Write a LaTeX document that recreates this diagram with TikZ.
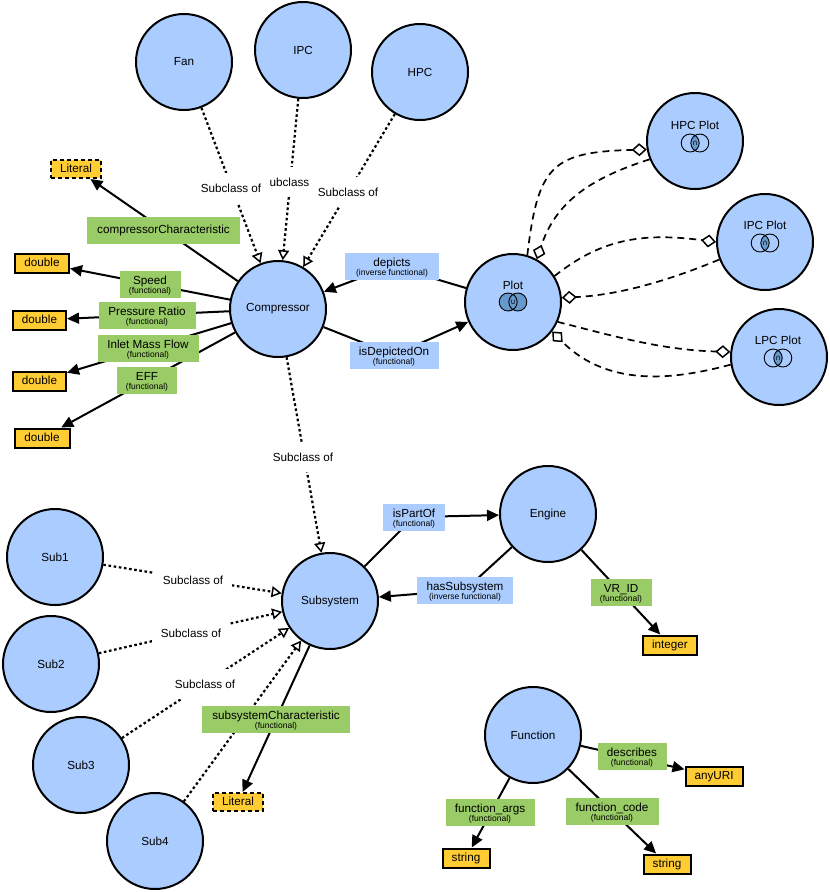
\documentclass[tikz,border=0pt]{standalone}
\usepackage{fontspec}
\setmainfont{Liberation Sans}
\newfontfamily\symf{DejaVu Sans}
\usetikzlibrary{arrows.meta}
\definecolor{cblue}{HTML}{AACCFF}
\definecolor{cgreen}{HTML}{99CC66}
\definecolor{cyellow}{HTML}{FFCC33}
\definecolor{cdark}{HTML}{6699CC}
\pgfdeclarelayer{back}
\pgfdeclarelayer{bg}
\pgfsetlayers{back,bg,main}
\newcommand\fmain{\fontsize{11.7}{13}\selectfont}
\newcommand\fsmall{\fontsize{8.5}{10}\selectfont}
\tikzset{
  cls/.style={circle, draw, line width=2pt, fill=cblue, minimum size=96pt, inner sep=0pt, font=\fmain},
  obox/.style={fill=cblue, inner sep=0pt, minimum height=27pt},
  gbox/.style={fill=cgreen, inner sep=0pt, minimum height=27pt},
  ybox/.style={fill=cyellow, draw, line width=2pt, inner sep=0pt, minimum height=19pt, font=\fmain, text height=8.5pt, text depth=2.5pt},
  lit/.style={ybox, dash pattern=on 4pt off 3pt},
  sublbl/.style={fill=white, inner xsep=9pt, inner ysep=11pt, font=\fmain},
  maintxt/.style={font=\fmain, inner sep=0pt, text height=8.5pt, text depth=2.5pt},
  subtxt/.style={font=\fsmall, inner sep=0pt, text height=6pt, text depth=2pt},
  rel/.style={line width=2pt, -{Triangle[length=12pt,width=11pt]}},
  subc/.style={line width=2.2pt, dash pattern=on 2.6pt off 2.6pt, -{Triangle[open,fill=white,length=10pt,width=11pt,line width=1.5pt]}},
  dsh/.style={line width=1.7pt, dash pattern=on 7pt off 5pt, -{Diamond[open,fill=white,length=15pt,width=13pt,line width=1.5pt]}},
}
% style, name, x, y, width, text, subtext
\newcommand\propbox[7]{%
  \node[#1, minimum width=#5pt] (#2) at (#3,#4) {};
  \node[maintxt] (#2a) at ([yshift=3pt]#2.center) {#6};
  \node[subtxt] (#2b) at ([yshift=-7pt]#2.center) {#7};
}
\newcommand\vennU[2]{%
  \begin{scope}[shift={(#2)}]
    \fill[cdark] (-4.8,0) circle[radius=9pt] (4.8,0) circle[radius=9pt];
    \draw[line width=0.9pt] (-4.8,0) circle[radius=9pt] (4.8,0) circle[radius=9pt];
    \node[font=\symf\fontsize{7.5}{8}\selectfont, inner sep=0pt] (#1) at (0,0) {∪};
  \end{scope}}
\newcommand\vennN[2]{%
  \begin{scope}[shift={(#2)}]
    \begin{scope}
      \clip (-4.8,0) circle[radius=9pt];
      \fill[cdark] (4.8,0) circle[radius=9pt];
    \end{scope}
    \draw[line width=0.9pt] (-4.8,0) circle[radius=9pt] (4.8,0) circle[radius=9pt];
    \node[font=\symf\fontsize{7.5}{8}\selectfont, inner sep=0pt] (#1) at (0,0) {∩};
  \end{scope}}

\begin{document}
\begin{tikzpicture}[x=1pt,y=-1pt]
\begin{pgfonlayer}{back}
\fill[white] (0,0) rectangle (830,892);
\end{pgfonlayer}
\useasboundingbox (0,0) rectangle (830,892);

% classes
\node[cls] (fan) at (184,62) {Fan};
\node[cls] (ipc) at (303,50) {IPC};
\node[cls] (hpc) at (420,72) {HPC};
\node[cls] (comp) at (278,309) {Compressor};
\node[cls] (plot) at (513,302) {};
\node[cls] (hpcp) at (695,141) {};
\node[cls] (ipcp) at (765,242) {};
\node[cls] (lpcp) at (779,357) {};
\node[cls] (sub) at (330,601) {Subsystem};
\node[cls] (s1) at (55,557) {Sub1};
\node[cls] (s2) at (51,664) {Sub2};
\node[cls] (s3) at (81,765) {Sub3};
\node[cls] (s4) at (155,841) {Sub4};
\node[cls] (eng) at (548,514) {Engine};
\node[cls] (func) at (533,735) {Function};

% plot labels and icons
\node[maintxt] (plott) at (513,286) {Plot};
\vennU{plotu}{513,302}
\node[maintxt] (hpcpt) at (695,126) {HPC Plot};
\vennN{hpcpn}{695,143}
\node[maintxt] (ipcpt) at (765,226) {IPC Plot};
\vennN{ipcpn}{765,243}
\node[maintxt] (lpcpt) at (778,341) {LPC Plot};
\vennN{lpcpn}{778,358}

% datatypes
\node[lit, minimum width=50pt, minimum height=18pt] (lit1) at (76,169) {Literal};
\node[ybox, minimum width=54pt] (d1) at (42,263) {double};
\node[ybox, minimum width=53pt] (d2) at (39.5,320) {double};
\node[ybox, minimum width=53pt] (d3) at (39.5,381) {double};
\node[ybox, minimum width=55pt] (d4) at (42,438) {double};
\node[ybox, minimum width=54pt] (intg) at (670,645) {integer};
\node[lit, minimum width=50pt, minimum height=18pt] (lit2) at (238,802) {Literal};
\node[ybox, minimum width=57pt] (uri) at (714,776) {anyURI};
\node[ybox, minimum width=47pt] (str1) at (466,858) {string};
\node[ybox, minimum width=47pt] (str2) at (667,864) {string};

% properties
\node[gbox, minimum width=153pt, font=\fmain, text height=8.5pt, text depth=2.5pt] (cc) at (163.5,230) {compressorCharacteristic};
\propbox{gbox}{spd}{150}{284}{61}{Speed}{(functional)}
\propbox{gbox}{pr}{147}{315}{97}{Pressure Ratio}{(functional)}
\propbox{gbox}{imf}{148}{348}{101}{Inlet Mass Flow}{(functional)}
\propbox{gbox}{eff}{147}{380}{60}{EFF}{(functional)}
\propbox{obox}{dep}{392}{266}{94}{depicts}{(inverse functional)}
\propbox{obox}{ido}{394}{355}{89}{isDepictedOn}{(functional)}
\propbox{obox}{ipo}{414}{517}{62}{isPartOf}{(functional)}
\propbox{obox}{hss}{465}{590}{96}{hasSubsystem}{(inverse functional)}
\propbox{gbox}{vr}{621}{592}{61}{VR\_ID}{(functional)}
\propbox{gbox}{sc}{276}{719}{148}{subsystemCharacteristic}{(functional)}
\propbox{gbox}{des}{632}{756}{69}{describes}{(functional)}
\propbox{gbox}{fa}{490}{812}{89}{function\_args}{(functional)}
\propbox{gbox}{fc}{612}{811}{93}{function\_code}{(functional)}

% subclass labels
\node[sublbl] (l2) at (292,182) {Subclass of};
\node[sublbl] (l1) at (231,188) {Subclass of};
\node[sublbl] (l3) at (348,192) {Subclass of};
\node[sublbl] (l4) at (303,457) {Subclass of};
\node[sublbl] (l5) at (193,580) {Subclass of};
\node[sublbl] (l6) at (191,633) {Subclass of};
\node[sublbl] (l7) at (205,684) {Subclass of};

\begin{pgfonlayer}{bg}
  \draw[subc] (fan) -- (comp);
  \draw[subc] (ipc) -- (comp);
  \draw[subc] (hpc) -- (comp);
  \draw[subc] (comp) -- (sub);
  \draw[subc] (s1) -- (sub);
  \draw[subc] (s2) -- (sub);
  \draw[subc] (s3) -- (sub);
  \draw[subc] (s4) -- (sub);

  \draw[rel] (comp) -- (lit1);
  \draw[rel] (comp) -- (d1);
  \draw[rel] (comp) -- (d2);
  \draw[rel] (comp) -- (d3);
  \draw[rel] (comp) -- (d4);
  \draw[rel] (plot) -- (dep.center) -- (comp);
  \draw[rel] (comp) -- (ido.center) -- (plot);
  \draw[rel] (sub) -- (ipo.center) -- (eng);
  \draw[rel] (eng) -- (hss.center) -- (sub);
  \draw[rel] (eng) -- (intg);
  \draw[rel] (sub) -- (lit2);
  \draw[rel] (func) -- (uri);
  \draw[rel] (func) -- (str1);
  \draw[rel] (func) -- (str2);

  \draw[dsh] (plot.73) .. controls (538,165) and (552,152) .. (hpcp.190);
  \draw[dsh] (hpcp.202) .. controls (585,180) and (555,205) .. (plot.61);
  \draw[dsh] (plot.32) .. controls (600,240) and (640,232) .. (ipcp.180);
  \draw[dsh] (ipcp.201) .. controls (670,280) and (620,295) .. (plot.5);
  \draw[dsh] (plot.-24) .. controls (610,335) and (660,350) .. (lpcp.174);
  \draw[dsh] (lpcp.189) .. controls (680,378) and (610,390) .. (plot.-37);
\end{pgfonlayer}
\end{tikzpicture}
\end{document}
